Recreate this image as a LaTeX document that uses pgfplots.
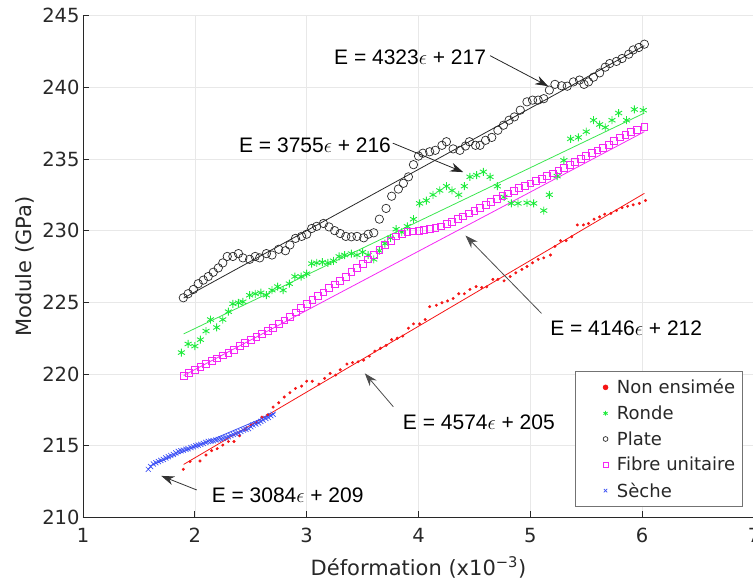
\documentclass[border=0pt]{standalone}
\usepackage{fontspec}
\setmainfont{DejaVu Sans}
\newfontfamily\helv{Liberation Sans}
\usepackage{pgfplots}
\pgfplotsset{compat=1.18}
\usetikzlibrary{arrows.meta}

\definecolor{cred}{RGB}{245,20,20}
\definecolor{cgreen}{RGB}{30,235,60}
\definecolor{cgreenl}{RGB}{60,230,80}
\definecolor{cplate}{RGB}{40,40,40}
\definecolor{cmag}{RGB}{245,40,245}
\definecolor{cblue}{RGB}{60,80,245}
\definecolor{axgray}{RGB}{40,40,40}

\begin{document}
\begin{tikzpicture}
\begin{axis}[
  scale only axis, width=671bp, height=502bp, at={(0,0)}, anchor=south west,
  xmin=1, xmax=7, ymin=210, ymax=245,
  xtick={1,2,3,4,5,6,7}, ytick={210,215,220,225,230,235,240,245},
  axis x line*=bottom, axis y line*=left,
  axis line style={-, line width=0.9bp, axgray},
  tick align=inside, major tick length=6bp,
  tick style={axgray, line width=0.8bp},
  grid=major, grid style={black!9, line width=0.6bp},
  /pgf/number format/assume math mode=true,
  tick label style={font=\fontsize{19.5bp}{21bp}\selectfont, text=axgray},
  xticklabel style={yshift=-7bp},
  label style={font=\fontsize{21bp}{24bp}\selectfont, text=axgray},
  xlabel={Déformation (x10\textsuperscript{−3})},
  ylabel={Module (GPa)},
  xlabel style={at={(axis description cs:0.5,0)}, anchor=center, yshift=-50bp},
  ylabel style={at={(axis description cs:0,0.5)}, anchor=center, yshift=58bp},
  clip mode=individual,
  legend cell align=left,
  legend image code/.code={\path (0bp,0bp) (34bp,0bp);
    \draw[#1, mark size=2.4bp] plot coordinates {(25bp,0bp)};},
  legend style={at={(0.983,0.021)}, anchor=south east,
    font=\fontsize{18bp}{21bp}\selectfont, draw=black!55, line width=0.7bp,
    inner xsep=5bp, inner ysep=6bp, row sep=6.5bp, text=axgray},
]
% fit lines
\addplot[cred, line width=0.8bp, forget plot] coordinates {(1.9,213.7) (6.02,232.6)};
\addplot[cgreenl, line width=0.8bp, forget plot] coordinates {(1.9,222.8) (6.02,238.2)};
\addplot[cplate, line width=0.8bp, forget plot] coordinates {(1.9,225.3) (6.02,242.9)};
\addplot[cmag, line width=0.8bp, forget plot] coordinates {(1.9,219.9) (6.02,236.9)};
\addplot[cblue, line width=0.8bp, forget plot] coordinates {(1.6,213.6) (2.72,217.3)};

% Non ensimee
\addplot[only marks, mark=*, mark size=1.3bp, cred] coordinates {
(1.897,213.36) (1.957,213.9) (2.046,213.94) (2.10,214.36) (2.15,214.66) (2.20,214.8)
(2.25,215.05) (2.30,215.3) (2.35,215.3) (2.40,215.7) (2.45,216.15) (2.50,216.4)
(2.55,216.6) (2.60,217.0) (2.65,217.15) (2.70,217.7) (2.75,218.0) (2.80,218.4)
(2.85,218.7) (2.90,219.0) (2.955,219.16) (3.0,219.5) (3.05,219.5) (3.11,219.3)
(3.16,219.7) (3.21,220.05) (3.26,219.93) (3.30,220.3) (3.36,220.7) (3.41,220.8)
(3.46,220.86) (3.51,220.97) (3.56,221.25) (3.61,221.6) (3.66,221.8) (3.71,222.0)
(3.76,222.4) (3.81,222.5) (3.86,222.65) (3.91,223.2) (3.955,223.5) (4.01,223.5)
(4.06,223.8) (4.10,224.7) (4.16,224.8) (4.21,224.97) (4.26,225.1) (4.31,225.27)
(4.36,225.6) (4.41,225.6) (4.46,225.9) (4.515,226.1) (4.565,226.04) (4.61,226.08)
(4.665,226.6) (4.71,226.6) (4.765,226.5) (4.82,226.8) (4.87,227.06) (4.925,227.3)
(4.97,227.5) (5.02,227.76) (5.07,228.0) (5.12,228.1) (5.18,228.3) (5.22,228.9)
(5.27,229.3) (5.32,229.3) (5.37,229.57) (5.42,230.4) (5.475,230.4) (5.52,230.5)
(5.57,230.8) (5.62,230.96) (5.665,231.15) (5.72,231.2) (5.77,231.4) (5.82,231.6)
(5.87,231.7) (5.92,231.8) (5.975,231.9) (6.03,232.1)};
\addlegendentry{Non ensimée}

% Ronde
\addplot[only marks, mark=asterisk, mark size=4bp, cgreen, line width=0.9bp] coordinates {
(1.88,221.5) (1.94,222.1) (2.0,221.95) (2.05,222.4) (2.10,223.0) (2.14,223.8)
(2.195,223.25) (2.25,223.8) (2.30,224.35) (2.34,224.9) (2.39,224.97) (2.43,225.04)
(2.49,225.5) (2.54,225.6) (2.59,225.67) (2.64,225.5) (2.69,225.85) (2.74,226.1)
(2.79,225.85) (2.845,226.3) (2.895,226.8) (2.95,226.8) (3.0,227.0) (3.045,227.7)
(3.09,227.75) (3.14,227.8) (3.19,227.75) (3.24,227.9) (3.29,228.2) (3.34,228.3)
(3.40,228.4) (3.45,228.3) (3.50,228.5) (3.55,228.3) (3.60,228.0) (3.65,228.6)
(3.70,229.1) (3.75,229.5) (3.80,230.1) (3.85,229.9) (3.90,230.3) (3.955,230.8)
(4.01,231.9) (4.07,232.1) (4.13,232.5) (4.19,232.8) (4.25,233.1) (4.30,232.8)
(4.36,232.5) (4.41,233.1) (4.46,233.75) (4.52,233.87) (4.58,234.1) (4.64,233.75)
(4.705,233.1) (4.765,232.35) (4.83,231.9) (4.89,231.9) (4.97,231.94) (5.03,231.9)
(5.12,231.4) (5.17,232.5) (5.24,233.8) (5.30,234.9) (5.36,236.4) (5.43,236.5)
(5.50,236.9) (5.565,237.7) (5.62,237.4) (5.67,237.2) (5.73,237.7) (5.79,238.2)
(5.86,237.7) (5.93,238.45) (6.01,238.4)};
\addlegendentry{Ronde}

% Plate
\addplot[only marks, mark=o, mark size=4.2bp, cplate, line width=0.7bp] coordinates {
(1.897,225.32) (1.94,225.6) (1.987,225.9) (2.03,226.3) (2.076,226.55) (2.12,226.8)
(2.165,227.1) (2.21,227.4) (2.25,227.75) (2.29,228.2) (2.34,228.2) (2.39,228.4)
(2.43,228.1) (2.49,228.0) (2.54,228.2) (2.58,228.1) (2.64,228.4) (2.69,228.3)
(2.75,228.7) (2.81,228.6) (2.85,229.0) (2.90,229.46) (2.955,229.6) (3.0,229.75)
(3.045,230.15) (3.09,230.3) (3.15,230.5) (3.20,230.26) (3.25,230.0) (3.30,229.8)
(3.35,229.6) (3.40,229.57) (3.45,229.6) (3.51,229.5) (3.55,229.75) (3.60,229.85)
(3.65,230.8) (3.71,231.55) (3.76,232.4) (3.82,232.9) (3.865,233.3) (3.91,233.75)
(3.955,234.6) (4.0,235.2) (4.04,235.4) (4.10,235.5) (4.15,235.6) (4.21,235.95)
(4.25,236.2) (4.31,235.7) (4.37,235.6) (4.42,235.9) (4.455,236.2) (4.51,235.95)
(4.55,235.95) (4.60,236.3) (4.655,236.5) (4.71,237.0) (4.76,237.35) (4.81,237.7)
(4.857,237.93) (4.91,238.4) (4.97,238.98) (5.02,239.1) (5.07,239.1) (5.12,239.2)
(5.17,239.8) (5.22,240.2) (5.28,240.1) (5.33,240.07) (5.385,240.37) (5.44,240.5)
(5.48,240.2) (5.52,240.37) (5.565,240.7) (5.62,241.0) (5.67,241.4) (5.71,241.65)
(5.77,241.8) (5.82,242.0) (5.88,242.3) (5.92,242.6) (5.97,242.77) (6.02,243.0)};
\addlegendentry{Plate}

% Fibre unitaire
\addplot[only marks, mark=square, mark size=3.4bp, cmag, line width=0.7bp] coordinates {
(1.90,219.9) (1.95,220.1) (2.00,220.3) (2.05,220.5) (2.10,220.7) (2.15,220.9)
(2.20,221.1) (2.25,221.3) (2.30,221.5) (2.35,221.7) (2.40,221.95) (2.45,222.2)
(2.50,222.4) (2.55,222.6) (2.60,222.8) (2.65,223.0) (2.70,223.25) (2.75,223.5)
(2.80,223.75) (2.85,224.0) (2.90,224.3) (2.95,224.6) (3.00,224.9) (3.05,225.2)
(3.10,225.45) (3.15,225.7) (3.20,226.0) (3.25,226.25) (3.30,226.5) (3.35,226.8)
(3.40,227.1) (3.45,227.4) (3.50,227.7) (3.55,228.0) (3.60,228.3) (3.65,228.65)
(3.70,229.0) (3.75,229.3) (3.80,229.6) (3.85,229.8) (3.90,229.9) (3.95,229.95)
(4.00,230.0) (4.05,230.05) (4.10,230.1) (4.15,230.2) (4.20,230.3) (4.25,230.45)
(4.30,230.6) (4.35,230.8) (4.40,231.0) (4.45,231.2) (4.50,231.4) (4.55,231.6)
(4.60,231.8) (4.65,232.0) (4.70,232.2) (4.75,232.4) (4.80,232.6) (4.85,232.8)
(4.90,233.0) (4.95,233.15) (5.00,233.3) (5.05,233.45) (5.10,233.6) (5.15,233.8)
(5.20,234.0) (5.25,234.2) (5.30,234.4) (5.35,234.6) (5.40,234.8) (5.45,235.0)
(5.50,235.2) (5.55,235.4) (5.60,235.6) (5.65,235.8) (5.70,236.0) (5.75,236.25)
(5.80,236.5) (5.85,236.7) (5.90,236.9) (5.95,237.05) (6.02,237.25)};
\addlegendentry{Fibre unitaire}

% Seche
\addplot[only marks, mark=x, mark size=3.6bp, cblue, line width=0.7bp] coordinates {
(1.584,213.36) (1.605,213.55) (1.629,213.73) (1.652,213.82) (1.674,213.9) (1.696,213.98)
(1.718,214.05) (1.740,214.15) (1.763,214.24) (1.785,214.32) (1.808,214.4) (1.830,214.5)
(1.852,214.6) (1.875,214.65) (1.897,214.7) (1.920,214.75) (1.940,214.8) (1.965,214.87)
(1.987,214.93) (2.010,215.0) (2.030,215.05) (2.053,215.1) (2.076,215.17) (2.098,215.23)
(2.120,215.3) (2.143,215.32) (2.165,215.35) (2.188,215.4) (2.210,215.45) (2.233,215.48)
(2.255,215.52) (2.278,215.57) (2.300,215.63) (2.322,215.72) (2.344,215.8) (2.367,215.85)
(2.390,215.9) (2.412,216.0) (2.434,216.1) (2.457,216.15) (2.480,216.2) (2.500,216.33)
(2.520,216.45) (2.545,216.52) (2.570,216.6) (2.590,216.7) (2.610,216.8) (2.635,216.9)
(2.657,216.98) (2.680,217.1) (2.700,217.2)};
\addlegendentry{Sèche}

% annotations
\tikzset{ann/.style={font=\helv\fontsize{21bp}{24bp}\selectfont, text=black, inner sep=0pt},
  arr/.style={-{Stealth[length=13bp,width=9bp]}, line width=0.8bp}}
\node[ann] at (axis cs:3.925,242.1) {E = 4323$\epsilon$ + 217};
\draw[arr, black!85] (axis cs:4.64,242.2) -- (axis cs:5.16,240.07);
\node[ann] at (axis cs:3.075,235.96) {E = 3755$\epsilon$ + 216};
\draw[arr, black!85] (axis cs:3.77,236.1) -- (axis cs:4.40,234.08);
\node[ann] at (axis cs:5.857,223.2) {E = 4146$\epsilon$ + 212};
\draw[arr, black!70] (axis cs:5.10,224.23) -- (axis cs:4.42,229.66);
\node[ann] at (axis cs:4.54,216.65) {E = 4574$\epsilon$ + 205};
\draw[arr, black!70] (axis cs:3.775,217.72) -- (axis cs:3.52,220.05);
\node[ann] at (axis cs:2.83,211.57) {E = 3084$\epsilon$ + 209};
\draw[arr, black!80] (axis cs:2.017,211.92) -- (axis cs:1.70,212.9);
\end{axis}
\pgfresetboundingbox
\useasboundingbox (-83bp,-62.5bp) rectangle (670bp,517.5bp);
\end{tikzpicture}
\end{document}
